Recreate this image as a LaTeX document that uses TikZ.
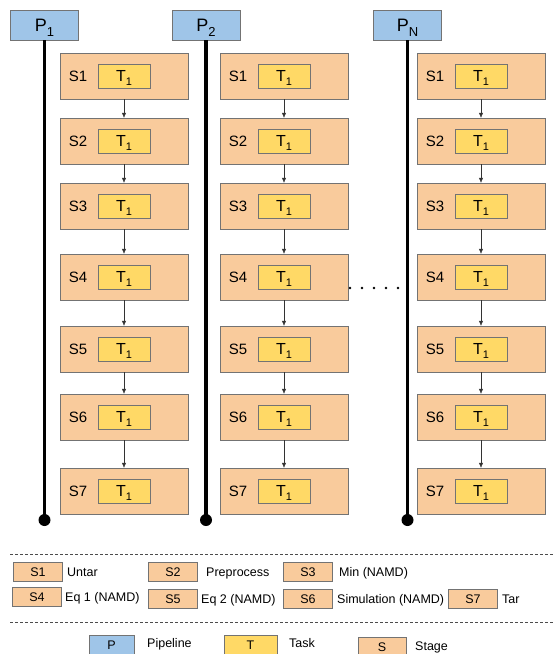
\documentclass[tikz,border=0pt]{standalone}
\usepackage{fontspec}
\setmainfont{Liberation Sans}
\usetikzlibrary{arrows.meta}
\definecolor{pipeblue}{HTML}{9FC5E8}
\definecolor{stageorange}{HTML}{F9CB9C}
\definecolor{taskyellow}{HTML}{FFD966}
\newcommand{\psub}[1]{\raisebox{-5pt}{\fontsize{13}{13}\selectfont #1}}
\newcommand{\tsub}[1]{\raisebox{-4pt}{\fontsize{11}{11}\selectfont #1}}
\begin{document}
\begin{tikzpicture}[x=1pt,y=-1pt,
  pipe/.style={draw=black!55, fill=pipeblue, minimum width=68pt, minimum height=30pt, inner sep=0pt, font=\fontsize{18}{20}\selectfont},
  stagebox/.style={draw=black!55, fill=stageorange, minimum width=128pt, minimum height=46pt, inner sep=0pt},
  stagelabel/.style={inner sep=0pt, font=\fontsize{15}{16}\selectfont},
  taskbox/.style={draw=black!55, fill=taskyellow, minimum width=52pt, minimum height=24pt, inner sep=0pt, font=\fontsize{16}{16}\selectfont},
  keybox/.style={draw=black!55, minimum width=49pt, minimum height=19pt, inner sep=0pt, font=\fontsize{12.5}{14}\selectfont},
  keytext/.style={anchor=west, inner sep=0pt, text height=9pt, text depth=0pt, font=\fontsize{12.5}{14}\selectfont}]
\useasboundingbox (0,0) rectangle (553,654);
\foreach \c/\px/\bx/\name in {1/44.5/60/1, 2/206/220/2, 3/407.5/417/N}
{
\node[pipe, text height=13pt, text depth=0pt] (p\c) at (\px,25) {P\psub{\name}};
\coordinate (end\c) at (\px,520);
\draw[line width=3.5pt] (p\c.south) -- (end\c);
\fill (end\c) circle (6pt);
\foreach \s/\y in {1/76,2/141,3/206,4/277,5/349,6/417,7/491}
{
\node[stagebox] (s\c\s) at (\bx+64,\y) {};
\node[stagelabel] (l\c\s) at (\bx+18,\y) {S\s};
\node[taskbox, text height=11.5pt, text depth=0pt] (t\c\s) at (\bx+64,\y) {T\tsub{1}};
}
\foreach \s [count=\n from 2] in {1,...,6}
\draw[-{Latex[length=5pt,width=4.5pt]}, black!80] (s\c\s) -- (s\c\n);
}
\foreach \x in {0,...,4}
\fill (350+\x*12,288) circle (1.3pt);
\draw[dashed, black!70, dash pattern=on 3pt off 2pt] (10,554) -- (553,554);
\draw[dashed, black!70, dash pattern=on 3pt off 2pt] (10,622) -- (553,622);
\foreach \s/\x/\y/\txt/\tx in {1/38/572/Untar/67, 2/173/572/Preprocess/206, 3/308/572/{Min (NAMD)}/339, 4/37/597/{Eq 1 (NAMD)}/65, 5/173/599/{Eq 2 (NAMD)}/201, 6/308/599/{Simulation (NAMD)}/337, 7/473/599/Tar/502}
{
\node[keybox, fill=stageorange] (k\s) at (\x,\y) {S\s};
\node[keytext] (d\s) at (\tx,\y) {\txt};
}
\node[keybox, fill=pipeblue, minimum width=45pt] (kp) at (111.5,645) {P};
\node[keytext] (dp) at (147,643) {Pipeline};
\node[keybox, fill=taskyellow, minimum width=53pt] (kt) at (250.5,645) {T};
\node[keytext] (dt) at (289,643) {Task};
\node[keybox, fill=stageorange, minimum width=48pt] (ks) at (382,647) {S};
\node[keytext] (ds) at (415,646) {Stage};
\end{tikzpicture}
\end{document}
